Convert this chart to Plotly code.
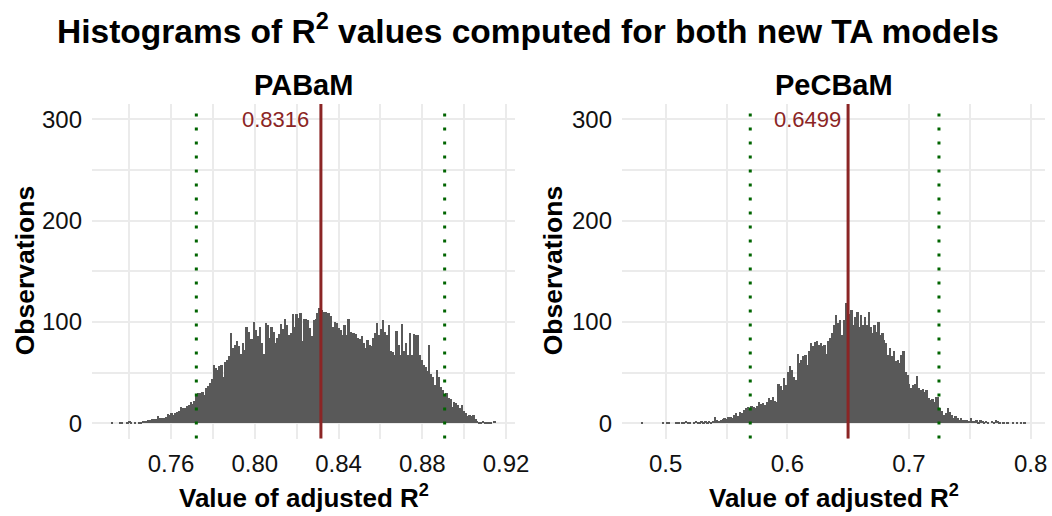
import numpy as np
import plotly.graph_objects as go

# ---- data -------------------------------------------------------------
# Histogram counts (200 equal-width bins over each model's R^2 range)
PABAM_COUNTS = [
    1, 0, 0, 0, 1, 1, 0, 0, 1, 2, 1, 0, 1, 0, 1, 1, 2,
    2, 2, 3, 3, 4, 4, 4,
    7, 5, 5, 5, 6, 9, 8, 10, 8, 10, 11, 12,
    16, 15, 15, 17, 18, 21, 19, 22, 28, 30, 30, 31, 28, 35, 37, 40, 44,
    58, 55, 53, 57, 58, 46, 60, 62, 66, 89, 74, 77, 81, 76, 68, 79, 72,
    95, 90, 83, 83, 100, 92, 86, 95, 79, 68, 99, 97, 84, 95, 90, 79, 84, 88, 98, 93,
    103, 97, 87, 89, 108, 95, 108, 104, 109, 81, 103, 103, 102, 94, 86, 102, 103, 109, 114,
    112, 110, 110, 109, 109, 106, 95, 100, 99, 94, 92, 87, 97, 87, 103, 90, 89, 89, 88, 84, 83,
    86, 79, 74, 82, 77, 76, 84, 89, 99, 87, 93, 102, 90, 87, 97, 71, 70, 67, 91, 77,
    67, 98, 71, 79, 67, 89, 67, 88, 87, 87, 67, 62, 58, 56, 52, 77, 49, 46, 38, 53,
    46, 36, 33, 28, 30, 25, 24, 16, 21, 20, 18, 15, 18, 12, 10, 7, 8, 7, 8, 4,
    2, 1, 1, 2, 1, 1, 1, 1, 0, 2,
]
PECBAM_COUNTS = [
    1, 0, 0, 0, 0, 0, 0, 0, 0, 0, 0,
    1, 0, 1, 1, 0, 0, 0, 1, 1, 0, 1, 1, 2, 1, 1, 0, 1, 2, 1, 1, 2, 1, 2, 1, 2, 1, 2,
    6, 3, 2, 3, 4, 5, 4, 6, 6, 5, 8, 10, 7, 11, 10, 13, 15, 16, 15, 17, 16, 15, 17,
    21, 19, 20, 18, 21, 25, 23, 26, 22, 21,
    39, 37, 33, 45, 38, 51, 57, 53, 46, 43, 68, 59, 62, 66, 67, 58, 71, 79, 76, 80,
    81, 77, 79, 76, 77, 68, 81, 84, 89,
    97, 107, 99, 102, 87, 102, 119, 110, 108,
    112, 97, 105, 110, 95, 107, 97, 105, 97, 110, 95, 89, 97, 90, 100, 87, 89, 82, 79, 67,
    74, 66, 71, 61, 62, 59, 67, 71, 51, 48, 39, 35, 38, 39, 47, 35, 33, 34, 31, 33,
    25, 23, 24, 21, 26, 26, 15, 12, 8, 10, 15, 11, 8, 5, 7, 5, 3, 5, 3, 3,
    3, 2, 5, 2, 2, 3, 1, 3, 2, 1, 2, 1, 0, 2, 1, 3, 2, 1, 0, 1,
    0, 1, 0, 0, 1, 0, 1, 0, 1, 0, 1,
]
PABAM_LIMITS = (0.7315, 0.9151)      # lowest / highest observed R^2
PECBAM_LIMITS = (0.4799, 0.7960)

PABAM_MEAN = 0.8316
PECBAM_MEAN = 0.6499
PABAM_INTERVAL = (0.7721, 0.8907)
PECBAM_INTERVAL = (0.5695, 0.7246)

PABAM_XTICKS = [0.76, 0.80, 0.84, 0.88, 0.92]
PABAM_XMINOR = [0.74, 0.78, 0.82, 0.86, 0.90]
PECBAM_XTICKS = [0.5, 0.6, 0.7, 0.8]
PECBAM_XMINOR = [0.55, 0.65, 0.75]
Y_TICKS = [0, 100, 200, 300]
Y_MINOR = [50, 150, 250]

MODELS = ["PABaM", "PeCBaM"]

# ---- styling ------------------------------------------------------------
W, H = 1052, 516
FONT = "Liberation Sans, Arial, sans-serif"
BAR = "#595959"
MEAN_COL = "#8B2525"
CI_COL = "#006400"
GRID = "#EBEBEB"


def px_x(p):
    return p / W


def px_y(p):
    return 1 - p / H


def bins(counts, limits):
    edges = np.linspace(limits[0], limits[1], len(counts) + 1)
    return (edges[:-1] + edges[1:]) / 2, edges[1] - edges[0]


panels = [
    dict(counts=PABAM_COUNTS, limits=PABAM_LIMITS, mean=PABAM_MEAN,
         ci=PABAM_INTERVAL, ticks=PABAM_XTICKS, minor=PABAM_XMINOR,
         dom=(92, 515), rng=(0.72227, 0.9243), shift=-10, fmt="{:.2f}"),
    dict(counts=PECBAM_COUNTS, limits=PECBAM_LIMITS, mean=PECBAM_MEAN,
         ci=PECBAM_INTERVAL, ticks=PECBAM_XTICKS, minor=PECBAM_XMINOR,
         dom=(622, 1045), rng=(0.46408, 0.81175), shift=-5, fmt="{:.1f}"),
]

PANEL_TOP, PANEL_BOTTOM = 104, 438.5
Y_RANGE = [-15, 315]

fig = go.Figure()
shapes, annotations = [], []
layout = {}

for k, p in enumerate(panels):
    sfx = "" if k == 0 else str(k + 1)
    xa, ya = "x" + sfx, "y" + sfx
    centers, width = bins(p["counts"], p["limits"])
    fig.add_trace(go.Bar(
        x=centers, y=p["counts"], width=width, xaxis=xa, yaxis=ya,
        marker=dict(color=BAR, line=dict(width=0)), showlegend=False,
    ))

    layout["xaxis" + sfx] = dict(
        domain=[px_x(p["dom"][0]), px_x(p["dom"][1])], range=list(p["rng"]),
        anchor=ya, tickvals=p["ticks"], ticktext=[p["fmt"].format(t) for t in p["ticks"]],
        showgrid=True, gridcolor=GRID, gridwidth=2, zeroline=False, showline=False,
        ticks="", ticklabelstandoff=8, automargin=False,
        tickfont=dict(family=FONT, size=24, color="#111111"),
        minor=dict(tickvals=p["minor"], showgrid=True, gridcolor=GRID, gridwidth=1.5),
    )
    layout["yaxis" + sfx] = dict(
        domain=[px_y(PANEL_BOTTOM), px_y(PANEL_TOP)], range=Y_RANGE, anchor=xa,
        tickvals=Y_TICKS, showgrid=True, gridcolor=GRID, gridwidth=2,
        zeroline=False, showline=False, ticks="", ticklabelstandoff=9, automargin=False,
        tickfont=dict(family=FONT, size=24, color="#111111"),
        minor=dict(tickvals=Y_MINOR, showgrid=True, gridcolor=GRID, gridwidth=1.5),
    )

    # mean line and interval bounds
    shapes.append(dict(type="line", xref=xa, yref=ya + " domain", x0=p["mean"], x1=p["mean"],
                       y0=0, y1=1, line=dict(color=MEAN_COL, width=3)))
    for b in p["ci"]:
        shapes.append(dict(type="line", xref=xa, yref=ya + " domain", x0=b, x1=b,
                           y0=0, y1=1, line=dict(color=CI_COL, width=3, dash="3px,11px")))

    annotations.append(dict(
        x=p["mean"], y=300, xref=xa, yref=ya, text=f"{p['mean']:.4f}",
        showarrow=False, xanchor="right", yanchor="middle", xshift=p["shift"],
        font=dict(family=FONT, size=22, color=MEAN_COL),
    ))

    cx = (p["dom"][0] + p["dom"][1]) / 2
    annotations.append(dict(
        x=px_x(cx), y=px_y(85), xref="paper", yref="paper", text=f"<b>{MODELS[k]}</b>",
        showarrow=False, xanchor="center", yanchor="middle",
        font=dict(family=FONT, size=29, color="black"),
    ))
    annotations.append(dict(
        x=px_x(cx), y=px_y(496), xref="paper", yref="paper",
        text="<b>Value of adjusted R<sup>2</sup></b>",
        showarrow=False, xanchor="center", yanchor="middle",
        font=dict(family=FONT, size=26, color="black"),
    ))
    annotations.append(dict(
        x=px_x(25 if k == 0 else 553), y=px_y((PANEL_TOP + PANEL_BOTTOM) / 2),
        xref="paper", yref="paper", text="<b>Observations</b>", textangle=-90,
        showarrow=False, xanchor="center", yanchor="middle",
        font=dict(family=FONT, size=26.5, color="black"),
    ))

annotations.append(dict(
    x=px_x(528), y=px_y(29), xref="paper", yref="paper",
    text="<b>Histograms of R<sup>2</sup> values computed for both new TA models</b>",
    showarrow=False, xanchor="center", yanchor="middle",
    font=dict(family=FONT, size=33.5, color="black"),
))

fig.update_layout(
    width=W, height=H, margin=dict(l=0, r=0, t=0, b=0, autoexpand=False),
    paper_bgcolor="white", plot_bgcolor="white",
    bargap=0, shapes=shapes, annotations=annotations, **layout,
)

fig.write_html("out.html")
